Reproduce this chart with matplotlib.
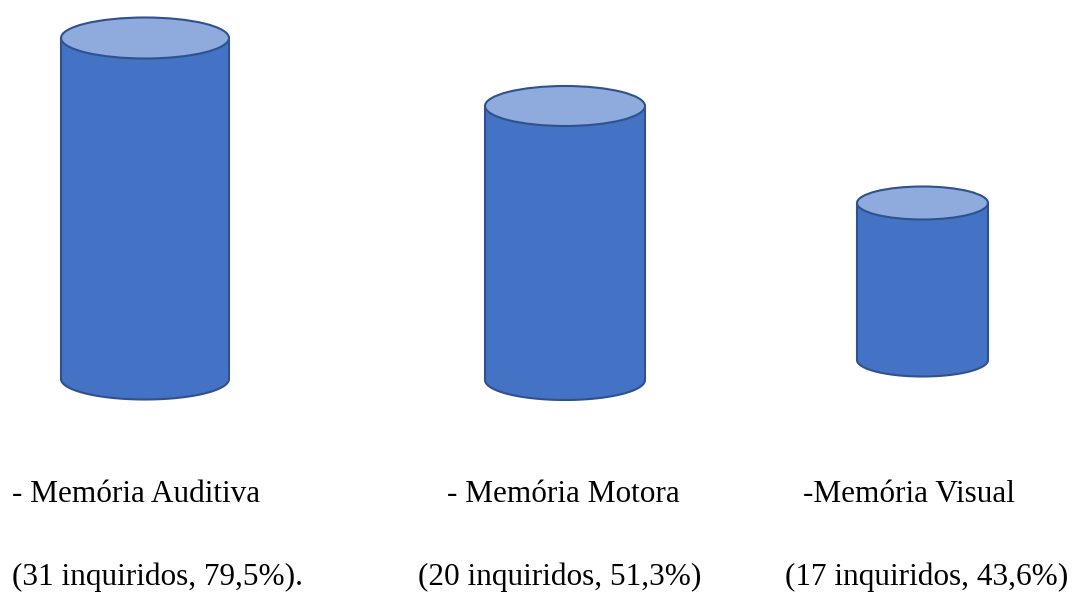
import matplotlib
matplotlib.use('Agg')
import matplotlib.pyplot as plt
import numpy as np
from matplotlib.patches import Polygon, Ellipse

# data
categorias = ['- Memória Auditiva', '- Memória Motora', '-Memória Visual']
inquiridos = [31, 20, 17]
percentagens = ['79,5', '51,3', '43,6']
finais = ['.', '', '']
alturas = [341, 274, 157]   # visual height of each cylinder

# layout (pixel coords of the 1082x593 canvas)
centros_x = [145, 565, 922.5]
larguras = [168, 160, 131]
semi_elipse = [20.5, 20, 16.5]
bases_y = [379, 380, 360]
texto_x1 = [12, 447, 803]
texto_x2 = [12, 418, 785]

CORPO = '#4472C4'
TOPO = '#8FAADC'
BORDA = '#2F528F'

fig = plt.figure(figsize=(10.82, 5.93), dpi=100)
ax = fig.add_axes([0, 0, 1, 1])
ax.set_xlim(0, 1082)
ax.set_ylim(593, 0)
ax.axis('off')

t = np.linspace(0, np.pi, 80)
for cx, w, ry, base, h in zip(centros_x, larguras, semi_elipse, bases_y, alturas):
    rx = w / 2
    topo = base - h
    # body: straight sides + lower half ellipse
    xs = np.concatenate([[cx - rx], cx - rx * np.cos(t), [cx + rx]])
    ys = np.concatenate([[topo], base + ry * np.sin(t), [topo]])
    ax.add_patch(Polygon(np.column_stack([xs, ys]), closed=True,
                         facecolor=CORPO, edgecolor=BORDA, linewidth=1.5, joinstyle='round'))
    ax.add_patch(Ellipse((cx, topo), w, 2 * ry, facecolor=TOPO,
                         edgecolor=BORDA, linewidth=1.5))

fonte = dict(family='Liberation Serif', fontsize=22.5, color='black')
for i, cat in enumerate(categorias):
    ax.text(texto_x1[i], 502, cat, ha='left', va='baseline', **fonte)
    ax.text(texto_x2[i], 585, f'({inquiridos[i]} inquiridos, {percentagens[i]}%){finais[i]}',
            ha='left', va='baseline', **fonte)

plt.savefig('out.png', dpi=100)
